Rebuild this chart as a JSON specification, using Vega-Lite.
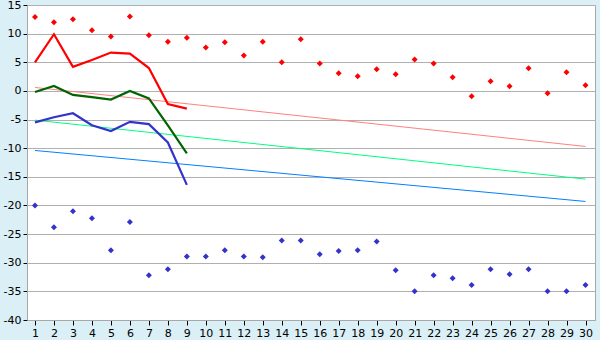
{
  "$schema": "https://vega.github.io/schema/vega-lite/v6.json",
  "width": 568,
  "height": 315,
  "autosize": {"type": "none"},
  "padding": {"left": 27, "top": 5, "right": 5, "bottom": 20},
  "background": "#DAEFF6",
  "config": {
    "view": {"fill": "white", "stroke": "#a8a8a8"},
    "font": "DejaVu Sans"
  },
  "datasets": {
    "obs": [
      {"day": 1, "series": "tmax", "value": 5.0},
      {"day": 2, "series": "tmax", "value": 9.9},
      {"day": 3, "series": "tmax", "value": 4.2},
      {"day": 4, "series": "tmax", "value": 5.4},
      {"day": 5, "series": "tmax", "value": 6.7},
      {"day": 6, "series": "tmax", "value": 6.5},
      {"day": 7, "series": "tmax", "value": 4.0},
      {"day": 8, "series": "tmax", "value": -2.3},
      {"day": 9, "series": "tmax", "value": -3.1},
      {"day": 1, "series": "tavg", "value": -0.2},
      {"day": 2, "series": "tavg", "value": 0.85},
      {"day": 3, "series": "tavg", "value": -0.7},
      {"day": 4, "series": "tavg", "value": -1.1},
      {"day": 5, "series": "tavg", "value": -1.5},
      {"day": 6, "series": "tavg", "value": 0.0},
      {"day": 7, "series": "tavg", "value": -1.3},
      {"day": 8, "series": "tavg", "value": -6.0},
      {"day": 9, "series": "tavg", "value": -10.9},
      {"day": 1, "series": "tmin", "value": -5.5},
      {"day": 2, "series": "tmin", "value": -4.6},
      {"day": 3, "series": "tmin", "value": -3.9},
      {"day": 4, "series": "tmin", "value": -6.0},
      {"day": 5, "series": "tmin", "value": -7.0},
      {"day": 6, "series": "tmin", "value": -5.4},
      {"day": 7, "series": "tmin", "value": -5.8},
      {"day": 8, "series": "tmin", "value": -9.0},
      {"day": 9, "series": "tmin", "value": -16.4},
      {"day": 1, "series": "nmax", "value": 0.6},
      {"day": 30, "series": "nmax", "value": -9.7},
      {"day": 1, "series": "navg", "value": -5.1},
      {"day": 30, "series": "navg", "value": -15.4},
      {"day": 1, "series": "nmin", "value": -10.4},
      {"day": 30, "series": "nmin", "value": -19.3}
    ],
    "rec": [
      {"day": 1, "series": "recmax", "value": 12.9},
      {"day": 2, "series": "recmax", "value": 12.0},
      {"day": 3, "series": "recmax", "value": 12.5},
      {"day": 4, "series": "recmax", "value": 10.6},
      {"day": 5, "series": "recmax", "value": 9.5},
      {"day": 6, "series": "recmax", "value": 13.0},
      {"day": 7, "series": "recmax", "value": 9.7},
      {"day": 8, "series": "recmax", "value": 8.6},
      {"day": 9, "series": "recmax", "value": 9.3},
      {"day": 10, "series": "recmax", "value": 7.6},
      {"day": 11, "series": "recmax", "value": 8.5},
      {"day": 12, "series": "recmax", "value": 6.2},
      {"day": 13, "series": "recmax", "value": 8.6},
      {"day": 14, "series": "recmax", "value": 5.0},
      {"day": 15, "series": "recmax", "value": 9.0},
      {"day": 16, "series": "recmax", "value": 4.8},
      {"day": 17, "series": "recmax", "value": 3.1},
      {"day": 18, "series": "recmax", "value": 2.55},
      {"day": 19, "series": "recmax", "value": 3.8},
      {"day": 20, "series": "recmax", "value": 2.9},
      {"day": 21, "series": "recmax", "value": 5.5},
      {"day": 22, "series": "recmax", "value": 4.8},
      {"day": 23, "series": "recmax", "value": 2.4},
      {"day": 24, "series": "recmax", "value": -0.95},
      {"day": 25, "series": "recmax", "value": 1.7},
      {"day": 26, "series": "recmax", "value": 0.8},
      {"day": 27, "series": "recmax", "value": 3.95},
      {"day": 28, "series": "recmax", "value": -0.4},
      {"day": 29, "series": "recmax", "value": 3.25},
      {"day": 30, "series": "recmax", "value": 1.0},
      {"day": 1, "series": "recmin", "value": -20.0},
      {"day": 2, "series": "recmin", "value": -23.8},
      {"day": 3, "series": "recmin", "value": -21.0},
      {"day": 4, "series": "recmin", "value": -22.25},
      {"day": 5, "series": "recmin", "value": -27.8},
      {"day": 6, "series": "recmin", "value": -22.9},
      {"day": 7, "series": "recmin", "value": -32.2},
      {"day": 8, "series": "recmin", "value": -31.15},
      {"day": 9, "series": "recmin", "value": -28.9},
      {"day": 10, "series": "recmin", "value": -28.9},
      {"day": 11, "series": "recmin", "value": -27.8},
      {"day": 12, "series": "recmin", "value": -28.9},
      {"day": 13, "series": "recmin", "value": -29.05},
      {"day": 14, "series": "recmin", "value": -26.1},
      {"day": 15, "series": "recmin", "value": -26.1},
      {"day": 16, "series": "recmin", "value": -28.5},
      {"day": 17, "series": "recmin", "value": -27.95},
      {"day": 18, "series": "recmin", "value": -27.8},
      {"day": 19, "series": "recmin", "value": -26.3},
      {"day": 20, "series": "recmin", "value": -31.3},
      {"day": 21, "series": "recmin", "value": -35.0},
      {"day": 22, "series": "recmin", "value": -32.2},
      {"day": 23, "series": "recmin", "value": -32.7},
      {"day": 24, "series": "recmin", "value": -33.9},
      {"day": 25, "series": "recmin", "value": -31.15},
      {"day": 26, "series": "recmin", "value": -32.0},
      {"day": 27, "series": "recmin", "value": -31.15},
      {"day": 28, "series": "recmin", "value": -35.0},
      {"day": 29, "series": "recmin", "value": -35.0},
      {"day": 30, "series": "recmin", "value": -33.9}
    ]
  },
  "encoding": {
    "x": {
      "field": "day",
      "type": "quantitative",
      "scale": {"domain": [0.58, 30.5], "nice": false, "zero": false},
      "axis": {
        "values": [1,2,3,4,5,6,7,8,9,10,11,12,13,14,15,16,17,18,19,20,21,22,23,24,25,26,27,28,29,30],
        "format": "d",
        "title": null,
        "grid": false,
        "labelFontSize": 11,
        "labelColor": "#000",
        "labelPadding": 2,
        "tickSize": 5,
        "tickColor": "#000",
        "domainColor": "#a8a8a8",
        "labelFlush": false,
        "labelOverlap": false
      }
    },
    "y": {
      "field": "value",
      "type": "quantitative",
      "scale": {"domain": [-40, 15], "nice": false, "zero": false},
      "axis": {
        "values": [-40, -35, -30, -25, -20, -15, -10, -5, 0, 5, 10, 15],
        "labelExpr": "'' + datum.value",
        "title": null,
        "grid": true,
        "gridColor": "#b0b0b0",
        "gridWidth": 1,
        "labelFontSize": 11,
        "labelColor": "#000",
        "labelPadding": 2,
        "tickSize": 4,
        "tickColor": "#000",
        "domainColor": "#a8a8a8",
        "labelFlush": false,
        "labelOverlap": false
      }
    }
  },
  "layer": [
    {
      "data": {"name": "obs"},
      "transform": [{"filter": "indexof(['nmax','navg','nmin'], datum.series) >= 0"}],
      "mark": {"type": "line", "strokeWidth": 1},
      "encoding": {
        "detail": {"field": "series"},
        "color": {
          "field": "series",
          "type": "nominal",
          "scale": {"domain": ["nmax", "navg", "nmin"], "range": ["#FF8080", "#00FF80", "#0080FF"]},
          "legend": null
        }
      }
    },
    {
      "data": {"name": "obs"},
      "transform": [{"filter": "indexof(['tmax','tavg','tmin'], datum.series) >= 0"}],
      "mark": {"type": "line", "strokeWidth": 2.2},
      "encoding": {
        "detail": {"field": "series"},
        "color": {
          "field": "series",
          "type": "nominal",
          "scale": {"domain": ["tmax", "tavg", "tmin"], "range": ["#FF0000", "#006400", "#3333CC"]},
          "legend": null
        }
      }
    },
    {
      "data": {"name": "rec"},
      "mark": {"type": "point", "shape": "diamond", "filled": true, "size": 36, "opacity": 1},
      "encoding": {
        "color": {
          "field": "series",
          "type": "nominal",
          "scale": {"domain": ["recmax", "recmin"], "range": ["#FF0000", "#3333CC"]},
          "legend": null
        }
      }
    }
  ],
  "resolve": {"scale": {"color": "independent"}}
}
